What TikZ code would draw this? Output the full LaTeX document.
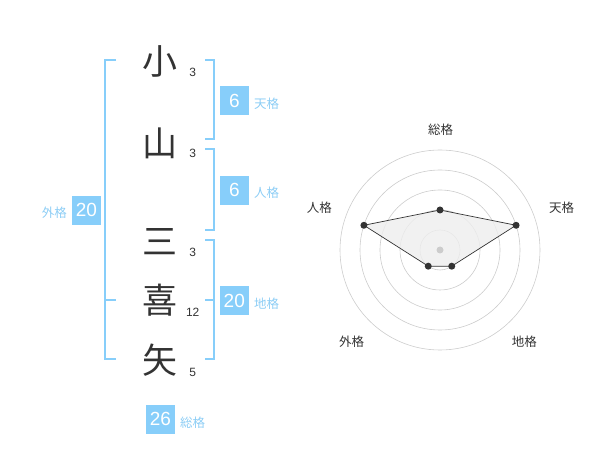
\documentclass[tikz,border=0pt]{standalone}
\usepackage{fontspec}
\usetikzlibrary{calc}
\setmainfont{Liberation Sans}
\newfontfamily\cjk{Noto Sans CJK JP}
\definecolor{sky}{RGB}{135,206,250}
\definecolor{skytxt}{RGB}{140,205,245}
\definecolor{ink}{RGB}{51,51,51}
\definecolor{ring}{RGB}{204,204,204}
\definecolor{area}{RGB}{238,238,238}
\begin{document}
\begin{tikzpicture}[x=1pt,y=-1pt,
  kanji/.style={font=\cjk\fontsize{35}{35}\selectfont, text=ink, inner sep=0pt},
  stroke/.style={font=\fontsize{12}{12}\selectfont, text=ink, inner sep=0pt},
  scorebox/.style={fill=sky, text=white, minimum size=29pt, inner sep=0pt, font=\fontsize{19}{19}\selectfont},
  kaku/.style={font=\cjk\fontsize{12.5}{12.5}\selectfont, text=skytxt, inner sep=0pt},
  brace/.style={draw=sky, line width=2pt},
  axis/.style={font=\cjk\fontsize{12.5}{12.5}\selectfont, text=ink, inner sep=0pt},
  ringline/.style={draw=ring, line width=0.6pt},
  dot/.style={circle, fill=ink, inner sep=0pt, minimum size=7pt}]
\useasboundingbox (0,0) rectangle (600,470);
% characters
\node[kanji] (c1) at (160,61.5) {小};
\node[kanji] (c2) at (160,143) {山};
\node[kanji] (c3) at (160,241.5) {三};
\node[kanji] (c4) at (160,300) {喜};
\node[kanji] (c5) at (160,360) {矢};
\node[stroke] (s1) at (192.7,72.7) {3};
\node[stroke] (s2) at (192.7,153) {3};
\node[stroke] (s3) at (192.7,252) {3};
\node[stroke] (s4) at (192.7,312.7) {12};
\node[stroke] (s5) at (192.7,372.7) {5};
% brackets
\draw[brace] (116,60) -- (105,60) -- (105,359.3) -- (116,359.3);
\draw[brace] (105,300) -- (116,300);
\draw[brace] (205,60) -- (214.3,60) -- (214.3,139.3) -- (205,139.3);
\draw[brace] (205,149.3) -- (214.3,149.3) -- (214.3,230) -- (205,230);
\draw[brace] (205,240) -- (214.3,240) -- (214.3,359.3) -- (205,359.3);
\draw[brace] (205,300) -- (214.3,300);
% boxes
\node[scorebox] (ten) at (234.3,100.5) {6};
\node[kaku, anchor=west] (tenl) at (254,104) {天格};
\node[scorebox] (jin) at (234.3,190.2) {6};
\node[kaku, anchor=west] (jinl) at (254,193) {人格};
\node[scorebox] (chi) at (234.3,300.5) {20};
\node[kaku, anchor=west] (chil) at (254,304) {地格};
\node[scorebox] (gai) at (86.5,210.3) {20};
\node[kaku, anchor=east] (gail) at (67,213) {外格};
\node[scorebox] (sou) at (160.5,419.2) {26};
\node[kaku, anchor=west] (soul) at (180,422.7) {総格};
% radar
\coordinate (o) at (440,250);
\foreach \r in {20,40,60,80,100} \draw[ringline] (o) circle[radius=\r];
\coordinate (p1) at ($(o)+(0,-40)$);
\path (o) ++(-18:80) coordinate (p2);
\path (o) ++(54:20) coordinate (p3);
\path (o) ++(126:20) coordinate (p4);
\path (o) ++(198:80) coordinate (p5);
\draw[ink, line width=0.7pt, fill=area, fill opacity=0.8] (p1) -- (p2) -- (p3) -- (p4) -- (p5) -- cycle;
\node[circle, fill=ring, inner sep=0pt, minimum size=7pt] (ctr) at (o) {};
\foreach \p in {p1,p2,p3,p4,p5} \node[dot] at (\p) {};
\node[axis] (a1) at (440.7,130) {総格};
\node[axis] (a2) at (561.7,208) {天格};
\node[axis] (a3) at (524.3,342) {地格};
\node[axis] (a4) at (351.7,342) {外格};
\node[axis] (a5) at (319.3,208) {人格};
\end{tikzpicture}
\end{document}
